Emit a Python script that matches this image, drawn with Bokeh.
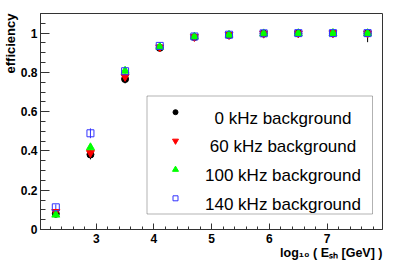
from bokeh.plotting import figure
from bokeh.models import Range1d, FixedTicker, Label, BoxAnnotation, Title
from bokeh.embed import file_html
from bokeh.resources import INLINE

# ---------------- data ----------------
log10_energy = [2.3, 2.9, 3.5, 4.1, 4.7, 5.3, 5.9, 6.5, 7.1, 7.7]
eff_0kHz   = [0.080, 0.382, 0.766, 0.925, 0.980, 0.990, 0.998, 0.999, 0.999, 0.999]
eff_60kHz  = [0.090, 0.390, 0.778, 0.928, 0.981, 0.991, 0.998, 0.999, 1.000, 0.999]
eff_100kHz = [0.075, 0.418, 0.808, 0.930, 0.982, 0.991, 0.998, 0.999, 1.000, 0.999]
eff_140kHz = [0.113, 0.490, 0.806, 0.935, 0.983, 0.992, 0.999, 1.000, 1.000, 1.000]
err_lo_0kHz = [0.015, 0.025, 0.022, 0.012, 0.006, 0.004, 0.002, 0.002, 0.002, 0.045]
err_hi_0kHz = [0.015, 0.025, 0.022, 0.012, 0.006, 0.004, 0.002, 0.001, 0.001, 0.001]
err_140kHz = [0.015, 0.025, 0.020, 0.010, 0.005, 0.004, 0.002, 0.0, 0.0, 0.0]

series_labels = ["0 kHz background", "60 kHz background",
                 "100 kHz background", "140 kHz background"]
x_ticks = [3, 4, 5, 6, 7]
y_ticks = [0, 0.2, 0.4, 0.6, 0.8, 1.0]
y_tick_labels = ["0", "0.2", "0.4", "0.6", "0.8", "1"]
x_title = "log\u2081\u2080 ( E\u209b\u2095 [GeV] )"
y_title = "efficiency"

# ---------------- layout ----------------
X0, X1 = 2.035, 7.958
Y0, Y1 = 0.0, 1.1
FL, FT, FW, FH = 40, 13, 342, 216  # frame in page pixels


def dx(px):
    return X0 + (px - FL) / FW * (X1 - X0)


def dy(py):
    return Y1 - (py - FT) / FH * (Y1 - Y0)


FONT = "Liberation Sans"

p = figure(width=398, height=265, x_range=Range1d(X0, X1), y_range=Range1d(Y0, Y1),
           output_backend="svg", toolbar_location=None,
           min_border_left=40, min_border_right=16, min_border_top=13, min_border_bottom=36)
p.grid.visible = False
p.outline_line_color = "#333333"
p.outline_line_width = 1
p.background_fill_color = "white"
p.border_fill_color = "white"

xa = p.xaxis[0]
xa.ticker = FixedTicker(ticks=x_ticks,
                        minor_ticks=[round(2.2 + 0.2 * i, 2) for i in range(29)])
xa.major_tick_in = 6
xa.major_tick_out = 0
xa.minor_tick_in = 3
xa.minor_tick_out = 0
xa.major_label_standoff = 4
xa.major_label_text_font = FONT
xa.major_label_text_font_style = "bold"
xa.major_label_text_font_size = "12px"
xa.major_label_text_color = "black"
xa.axis_line_color = "#333333"
xa.major_tick_line_color = "#333333"
xa.minor_tick_line_color = "#333333"

ya = p.yaxis[0]
ya.ticker = FixedTicker(ticks=y_ticks,
                        minor_ticks=[round(0.05 * i, 2) for i in range(23)])
ya.major_label_overrides = {t: s for t, s in zip(y_ticks, y_tick_labels)}
ya.major_tick_in = 9
ya.major_tick_out = 0
ya.minor_tick_in = 5
ya.minor_tick_out = 0
ya.major_label_standoff = 3
ya.major_label_text_font = FONT
ya.major_label_text_font_style = "bold"
ya.major_label_text_font_size = "12px"
ya.major_label_text_color = "black"
ya.axis_line_color = "#333333"
ya.major_tick_line_color = "#333333"
ya.minor_tick_line_color = "#333333"

# ---------------- axis titles ----------------
p.add_layout(Title(text=y_title, align="right", text_font=FONT, text_font_style="bold",
                   text_font_size="13px", text_color="black", standoff=0), "left")
p.add_layout(Title(text=x_title, align="right", vertical_align="top", text_font=FONT,
                   text_font_style="bold", text_font_size="12.5px",
                   text_color="black", standoff=0), "below")

# ---------------- error bars ----------------
p.segment(x0=log10_energy, x1=log10_energy,
          y0=[v - e for v, e in zip(eff_140kHz, err_140kHz)],
          y1=[v + e for v, e in zip(eff_140kHz, err_140kHz)],
          line_color="#3333ff", line_width=1)
p.segment(x0=log10_energy, x1=log10_energy,
          y0=[v - e for v, e in zip(eff_0kHz, err_lo_0kHz)],
          y1=[v + e for v, e in zip(eff_0kHz, err_hi_0kHz)],
          line_color="black", line_width=1)

# ---------------- markers ----------------
marker_specs = [
    (eff_0kHz, "circle", 7, "black", "black"),
    (eff_60kHz, "inverted_triangle", 8, "#ff0000", "#ff0000"),
    (eff_100kHz, "triangle", 8, "#00ff00", "#00ff00"),
    (eff_140kHz, "square", 7, None, "#3333ff"),
]
for vals, mk, sz, fc, lc in marker_specs:
    p.scatter(x=log10_energy, y=vals, marker=mk, size=sz,
              fill_color=fc, line_color=lc, line_width=1)

# ---------------- legend ----------------
box = BoxAnnotation(left=dx(146.5), right=dx(372), top=dy(95.5), bottom=dy(213.5),
                    fill_color="white", fill_alpha=1.0, line_color="black",
                    line_width=1, level="underlay")
p.add_layout(box)
row_mid = [111.7, 140.4, 169.1, 197.8]
for (vals, mk, sz, fc, lc), lab, py in zip(marker_specs, series_labels, row_mid):
    p.scatter(x=[dx(175)], y=[dy(py)], marker=mk, size=sz - 2,
              fill_color=fc, line_color=lc, line_width=1)
    p.add_layout(Label(x=dx(282.5), y=dy(py + 6), text=lab, text_align="center",
                       text_baseline="alphabetic", text_font=FONT,
                       text_font_size="17px", text_color="black"))

open("out.html", "w").write(file_html(p, INLINE))
